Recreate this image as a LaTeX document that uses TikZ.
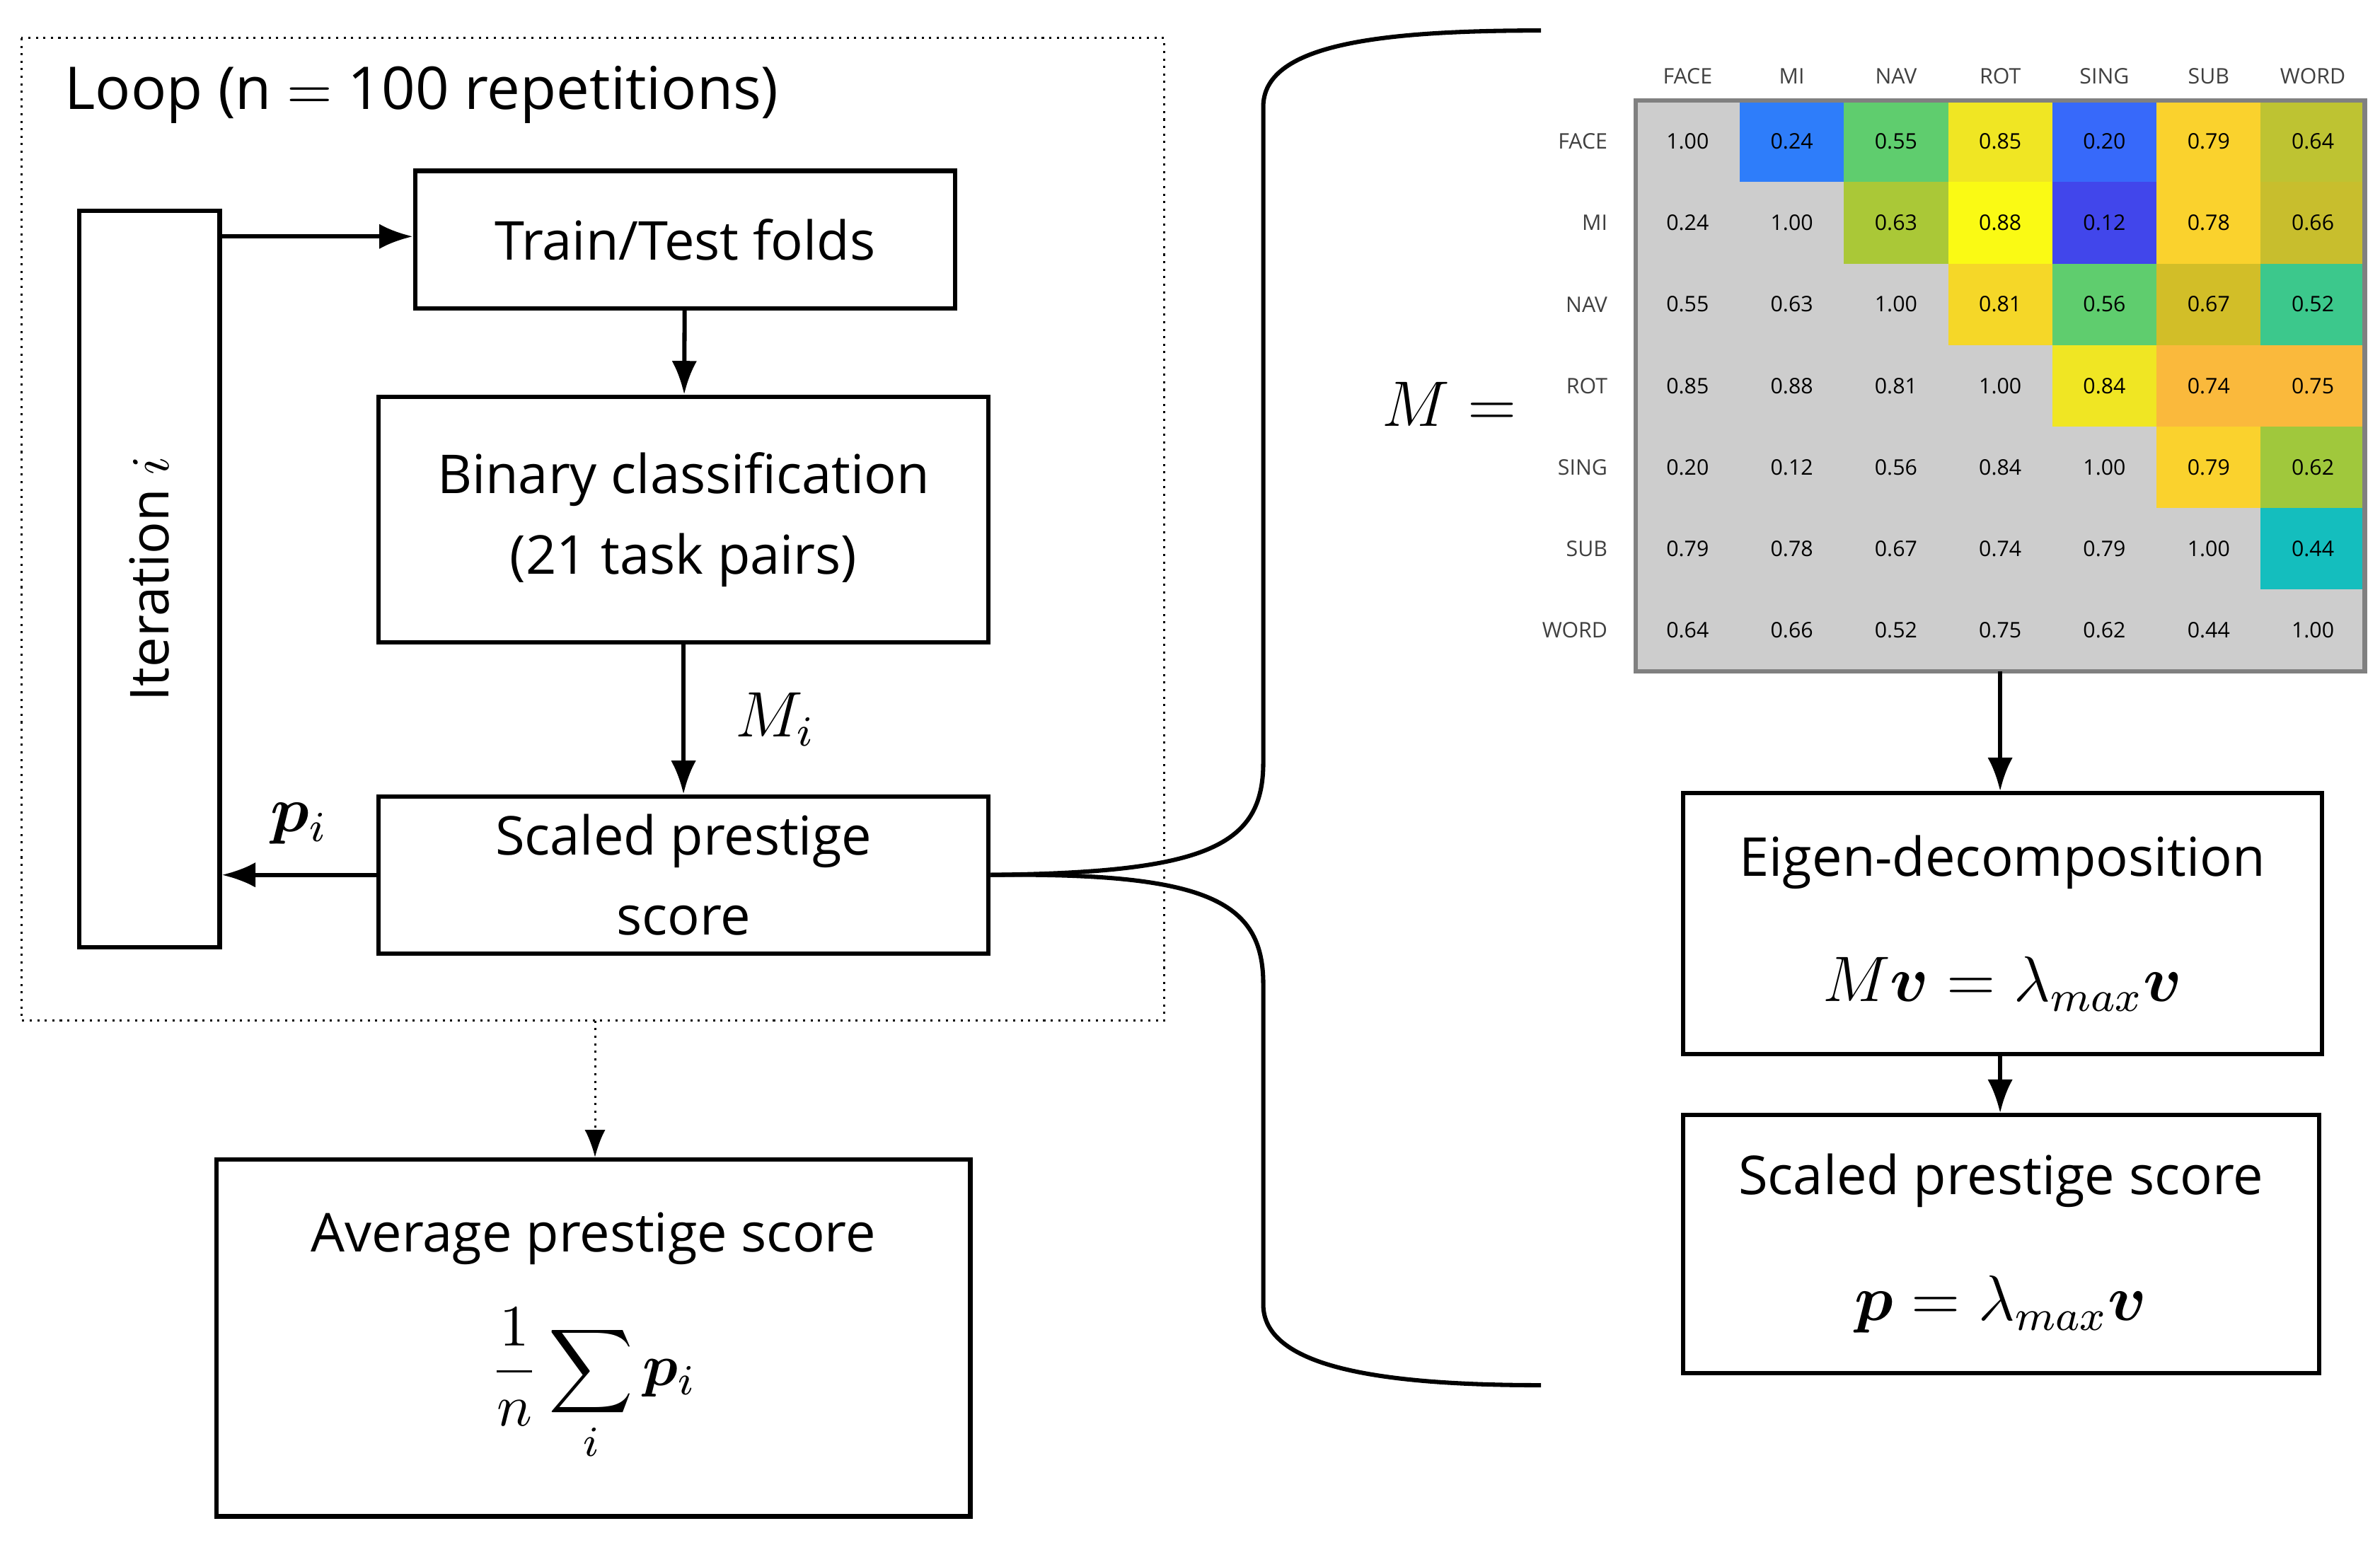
\documentclass[tikz,border=0pt]{standalone}
\usepackage{fontspec}
\usepackage{amsmath,bm}
\setmainfont{Open Sans}
\usetikzlibrary{positioning,arrows.meta}

\definecolor{cA}{RGB}{46,125,250}
\definecolor{cB}{RGB}{95,205,110}
\definecolor{cC}{RGB}{240,230,35}
\definecolor{cD}{RGB}{55,105,250}
\definecolor{cE}{RGB}{250,210,45}
\definecolor{cF}{RGB}{190,195,50}
\definecolor{cG}{RGB}{170,200,55}
\definecolor{cH}{RGB}{250,250,20}
\definecolor{cI}{RGB}{65,70,235}
\definecolor{cJ}{RGB}{200,190,45}
\definecolor{cK}{RGB}{245,215,40}
\definecolor{cL}{RGB}{210,190,40}
\definecolor{cM}{RGB}{60,200,140}
\definecolor{cN}{RGB}{250,185,60}
\definecolor{cO}{RGB}{160,200,60}
\definecolor{cP}{RGB}{20,190,190}
\definecolor{cellgray}{RGB}{205,205,205}

\tikzset{
  box/.style={draw, thick, align=center, font=\fontsize{10}{15}\selectfont, inner sep=0pt},
  arr/.style={-{Latex[length=2.2mm]}, thick},
  cell/.style={font=\fontsize{4}{5}\selectfont},
}

\begin{document}
\begin{tikzpicture}[x=1cm,y=-1cm]
\useasboundingbox (0,0) rectangle (15.6,10.16);

% loop frame
\draw[densely dotted] (0.14,0.25) rectangle (7.63,6.69);
\node[anchor=west, font=\fontsize{11}{13}\selectfont] (loop) at (0.30,0.62) {Loop (n $=$ 100 repetitions)};

\node[box, minimum width=0.92cm, minimum height=4.83cm] (iter) at (0.98,3.795) {};
\node[rotate=90, font=\fontsize{10}{12}\selectfont] (itertxt) at (iter.center) {Iteration $i$};
\node[box, minimum width=3.54cm, minimum height=0.90cm] (folds) at (4.49,1.57) {Train/Test folds};
\node[box, minimum width=4.00cm, minimum height=1.61cm] (binary) at (4.48,3.405) {Binary classification\\(21 task pairs)};
\node[box, minimum width=4.00cm, minimum height=1.03cm] (scaled) at (4.48,5.735) {Scaled prestige\\score};
\node[box, minimum width=4.94cm, minimum height=2.34cm] (avg) at (3.89,8.77) {};
\node[font=\fontsize{10}{12}\selectfont] (avgtxt) at (3.89,8.12) {Average prestige score};
\node[font=\fontsize{11}{12}\selectfont] (avgsum) at (3.89,9.08) {$\displaystyle\frac{1}{n}\sum_i \bm{p}_i$};

\coordinate (iterin) at (1.44,1.55);
\draw[arr] (iterin) -- (iterin -| folds.west);
\draw[arr] (folds) -- (binary);
\draw[arr] (binary) -- node[right=6pt, font=\fontsize{12}{12}\selectfont] {$M_i$} (scaled);
\draw[arr] (scaled.west) -- node[above=2pt, font=\fontsize{12}{12}\selectfont] {$\bm{p}_i$} (scaled.west -| iter.east);
\coordinate (loopout) at (3.90,6.69);
\draw[-{Latex[length=1.8mm]}, densely dotted] (loopout) -- (loopout |- avg.north);

% brace
\draw[thick] (scaled.east) .. controls (7.9,5.72) and (8.28,5.55) .. (8.28,5.0)
  -- (8.28,0.7) .. controls (8.28,0.3) and (9.0,0.2) .. (10.1,0.2);
\draw[thick] (scaled.east) .. controls (7.9,5.72) and (8.28,5.9) .. (8.28,6.45)
  -- (8.28,8.55) .. controls (8.28,8.95) and (9.0,9.08) .. (10.1,9.08);
\node[font=\fontsize{13}{14}\selectfont] (meq) at (9.50,2.65) {$M=$};

% matrix
\def\cw{0.683}
\def\ch{0.534}
\fill[cellgray] (10.72,0.66) rectangle (15.50,4.40);
\foreach \c/\r/\col in {2/1/cA,3/1/cB,4/1/cC,5/1/cD,6/1/cE,7/1/cF,
  3/2/cG,4/2/cH,5/2/cI,6/2/cE,7/2/cJ,
  4/3/cK,5/3/cB,6/3/cL,7/3/cM,
  5/4/cC,6/4/cN,7/4/cN,
  6/5/cE,7/5/cO,
  7/6/cP}
  \fill[\col] ({10.72+(\c-1)*\cw},{0.66+(\r-1)*\ch}) rectangle ++(\cw,\ch);
\draw[gray, thick] (10.72,0.66) rectangle (15.50,4.40);
\foreach \name [count=\k] in {FACE,MI,NAV,ROT,SING,SUB,WORD} {
  \node[cell, text=black!75] at ({10.72+(\k-0.5)*\cw},0.50) {\name};
  \node[cell, text=black!75, anchor=east] at (10.66,{0.66+(\k-0.5)*\ch}) {\name};
}
\foreach \row [count=\r] in {
  {1.00,0.24,0.55,0.85,0.20,0.79,0.64},
  {0.24,1.00,0.63,0.88,0.12,0.78,0.66},
  {0.55,0.63,1.00,0.81,0.56,0.67,0.52},
  {0.85,0.88,0.81,1.00,0.84,0.74,0.75},
  {0.20,0.12,0.56,0.84,1.00,0.79,0.62},
  {0.79,0.78,0.67,0.74,0.79,1.00,0.44},
  {0.64,0.66,0.52,0.75,0.62,0.44,1.00}}
  \foreach \v [count=\c] in \row
    \node[cell] at ({10.72+(\c-0.5)*\cw},{0.66+(\r-0.5)*\ch}) {\v};
\coordinate (matbot) at (13.11,4.40);

% right column
\node[box, minimum width=4.19cm, minimum height=1.71cm] (eigen) at (13.125,6.055) {};
\node[font=\fontsize{10}{12}\selectfont] (eigentxt) at (13.125,5.65) {Eigen-decomposition};
\node[font=\fontsize{12}{12}\selectfont] (eigeneq) at (13.125,6.45) {$M\bm{v}=\lambda_{max}\bm{v}$};
\node[box, minimum width=4.17cm, minimum height=1.69cm] (final) at (13.115,8.155) {};
\node[font=\fontsize{10}{12}\selectfont] (finaltxt) at (13.115,7.74) {Scaled prestige score};
\node[font=\fontsize{12}{12}\selectfont] (finaleq) at (13.115,8.55) {$\bm{p}=\lambda_{max}\bm{v}$};
\draw[arr] (matbot) -- (matbot |- eigen.north);
\draw[arr] (matbot |- eigen.south) -- (matbot |- final.north);
\end{tikzpicture}
\end{document}
